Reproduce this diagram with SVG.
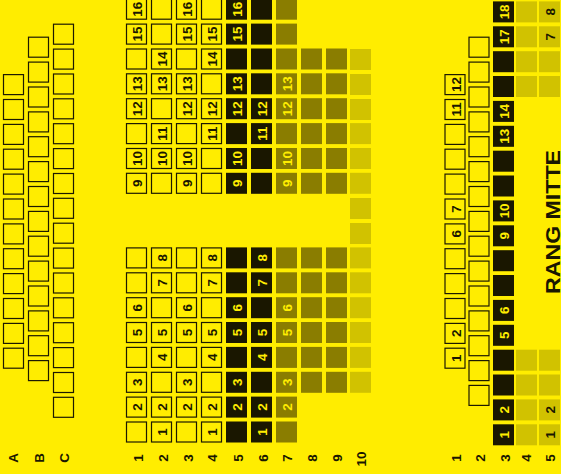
<svg xmlns="http://www.w3.org/2000/svg" width="561" height="474" viewBox="0 0 561 474">
<style>
.s rect{width:20px;height:20px;fill:none;stroke:#1d1a00;stroke-width:1.2}
.f rect{width:21px;height:21px}
.d rect{fill:#1a1700}
.b rect{fill:#8a7d00}
.l rect{fill:#d1c200}
text{font-family:"Liberation Sans",Arial,sans-serif;font-weight:700;font-size:13.4px;text-anchor:middle;fill:#1a1700}
.d text,.b text{fill:#ffed00}
#title{font-size:20.3px}
</style>
<rect width="561" height="474" fill="#ffed00"/>
<g id="left-A-C">
<g class="s" transform="translate(3.5 .5)"><rect y="74.1"/><rect y="99"/><rect y="123.9"/><rect y="148.7"/><rect y="173.6"/><rect y="198.5"/><rect y="223.4"/><rect y="248.2"/><rect y="273.1"/><rect y="298"/><rect y="322.9"/><rect y="347.7"/></g>
<g class="s" transform="translate(28.5 .5)"><rect y="36.7"/><rect y="61.6"/><rect y="86.5"/><rect y="111.4"/><rect y="136.2"/><rect y="161.1"/><rect y="186"/><rect y="210.9"/><rect y="235.7"/><rect y="260.6"/><rect y="285.5"/><rect y="310.4"/><rect y="335.2"/><rect y="360.1"/></g>
<g class="s" transform="translate(53.5 .5)"><rect y="23.7"/><rect y="48.6"/><rect y="73.5"/><rect y="98.3"/><rect y="123.2"/><rect y="148.1"/><rect y="173"/><rect y="197.8"/><rect y="222.7"/><rect y="247.6"/><rect y="272.5"/><rect y="297.3"/><rect y="322.2"/><rect y="347.1"/><rect y="372"/><rect y="396.8"/></g>
</g>
<g id="row-1" class="s" transform="translate(126.5 .5)"><rect y="-1.3"/><rect y="23.6"/><rect y="48.5"/><rect y="73.3"/><rect y="98.2"/><rect y="123.1"/><rect y="148"/><rect y="172.8"/><rect y="247.4"/><rect y="272.3"/><rect y="297.2"/><rect y="322"/><rect y="346.9"/><rect y="371.8"/><rect y="396.6"/><rect y="421.5"/>
<g><text transform="translate(15.5 8.7)rotate(-90)">16</text><text transform="translate(15.5 33.6)rotate(-90)">15</text><text transform="translate(15.5 83.3)rotate(-90)">13</text><text transform="translate(15.5 108.2)rotate(-90)">12</text><text transform="translate(15.5 158)rotate(-90)">10</text><text transform="translate(15.5 182.8)rotate(-90)">9</text><text transform="translate(15.5 307.2)rotate(-90)">6</text><text transform="translate(15.5 332)rotate(-90)">5</text><text transform="translate(15.5 381.8)rotate(-90)">3</text><text transform="translate(15.5 406.6)rotate(-90)">2</text></g></g>
<g id="row-2" class="s" transform="translate(151.5 .5)"><rect y="-1.3"/><rect y="23.6"/><rect y="48.5"/><rect y="73.3"/><rect y="98.2"/><rect y="123.1"/><rect y="148"/><rect y="172.8"/><rect y="247.4"/><rect y="272.3"/><rect y="297.2"/><rect y="322"/><rect y="346.9"/><rect y="371.8"/><rect y="396.6"/><rect y="421.5"/>
<g><text transform="translate(15.5 58.5)rotate(-90)">14</text><text transform="translate(15.5 83.3)rotate(-90)">13</text><text transform="translate(15.5 133.1)rotate(-90)">11</text><text transform="translate(15.5 158)rotate(-90)">10</text><text transform="translate(15.5 257.4)rotate(-90)">8</text><text transform="translate(15.5 282.3)rotate(-90)">7</text><text transform="translate(15.5 332)rotate(-90)">5</text><text transform="translate(15.5 356.9)rotate(-90)">4</text><text transform="translate(15.5 406.6)rotate(-90)">2</text><text transform="translate(15.5 431.5)rotate(-90)">1</text></g></g>
<g id="row-3" class="s" transform="translate(176.5 .5)"><rect y="-1.3"/><rect y="23.6"/><rect y="48.5"/><rect y="73.3"/><rect y="98.2"/><rect y="123.1"/><rect y="148"/><rect y="172.8"/><rect y="247.4"/><rect y="272.3"/><rect y="297.2"/><rect y="322"/><rect y="346.9"/><rect y="371.8"/><rect y="396.6"/><rect y="421.5"/>
<g><text transform="translate(15.5 8.7)rotate(-90)">16</text><text transform="translate(15.5 33.6)rotate(-90)">15</text><text transform="translate(15.5 83.3)rotate(-90)">13</text><text transform="translate(15.5 108.2)rotate(-90)">12</text><text transform="translate(15.5 158)rotate(-90)">10</text><text transform="translate(15.5 182.8)rotate(-90)">9</text><text transform="translate(15.5 307.2)rotate(-90)">6</text><text transform="translate(15.5 332)rotate(-90)">5</text><text transform="translate(15.5 381.8)rotate(-90)">3</text><text transform="translate(15.5 406.6)rotate(-90)">2</text></g></g>
<g id="row-4" class="s" transform="translate(201.5 .5)"><rect y="-1.3"/><rect y="23.6"/><rect y="48.5"/><rect y="73.3"/><rect y="98.2"/><rect y="123.1"/><rect y="148"/><rect y="172.8"/><rect y="247.4"/><rect y="272.3"/><rect y="297.2"/><rect y="322"/><rect y="346.9"/><rect y="371.8"/><rect y="396.6"/><rect y="421.5"/>
<g><text transform="translate(15.5 33.6)rotate(-90)">15</text><text transform="translate(15.5 58.5)rotate(-90)">14</text><text transform="translate(15.5 108.2)rotate(-90)">12</text><text transform="translate(15.5 133.1)rotate(-90)">11</text><text transform="translate(15.5 257.4)rotate(-90)">8</text><text transform="translate(15.5 282.3)rotate(-90)">7</text><text transform="translate(15.5 332)rotate(-90)">5</text><text transform="translate(15.5 356.9)rotate(-90)">4</text><text transform="translate(15.5 406.6)rotate(-90)">2</text><text transform="translate(15.5 431.5)rotate(-90)">1</text></g></g>
<g id="row-5" class="f d" transform="translate(226 0)"><rect y="-1.3"/><rect y="23.6"/><rect y="48.5"/><rect y="73.3"/><rect y="98.2"/><rect y="123.1"/><rect y="148"/><rect y="172.8"/><rect y="247.4"/><rect y="272.3"/><rect y="297.2"/><rect y="322"/><rect y="346.9"/><rect y="371.8"/><rect y="396.6"/><rect y="421.5"/>
<text transform="translate(16 9.2)rotate(-90)">16</text><text transform="translate(16 34.1)rotate(-90)">15</text><text transform="translate(16 83.8)rotate(-90)">13</text><text transform="translate(16 108.7)rotate(-90)">12</text><text transform="translate(16 158.5)rotate(-90)">10</text><text transform="translate(16 183.3)rotate(-90)">9</text><text transform="translate(16 307.7)rotate(-90)">6</text><text transform="translate(16 332.5)rotate(-90)">5</text><text transform="translate(16 382.3)rotate(-90)">3</text><text transform="translate(16 407.1)rotate(-90)">2</text></g>
<g id="row-6" class="f d" transform="translate(251 0)"><rect y="-1.3"/><rect y="23.6"/><rect y="48.5"/><rect y="73.3"/><rect y="98.2"/><rect y="123.1"/><rect y="148"/><rect y="172.8"/><rect y="247.4"/><rect y="272.3"/><rect y="297.2"/><rect y="322"/><rect y="346.9"/><rect y="371.8"/><rect y="396.6"/><rect y="421.5"/>
<text transform="translate(16 108.7)rotate(-90)">12</text><text transform="translate(16 133.6)rotate(-90)">11</text><text transform="translate(16 257.9)rotate(-90)">8</text><text transform="translate(16 282.8)rotate(-90)">7</text><text transform="translate(16 332.5)rotate(-90)">5</text><text transform="translate(16 357.4)rotate(-90)">4</text><text transform="translate(16 407.1)rotate(-90)">2</text><text transform="translate(16 432)rotate(-90)">1</text></g>
<g id="row-7" class="f b" transform="translate(276 0)"><rect y="-1.3"/><rect y="23.6"/><rect y="48.5"/><rect y="73.3"/><rect y="98.2"/><rect y="123.1"/><rect y="148"/><rect y="172.8"/><rect y="247.4"/><rect y="272.3"/><rect y="297.2"/><rect y="322"/><rect y="346.9"/><rect y="371.8"/><rect y="396.6"/><rect y="421.5"/>
<text transform="translate(16 83.8)rotate(-90)">13</text><text transform="translate(16 108.7)rotate(-90)">12</text><text transform="translate(16 158.5)rotate(-90)">10</text><text transform="translate(16 183.3)rotate(-90)">9</text><text transform="translate(16 307.7)rotate(-90)">6</text><text transform="translate(16 332.5)rotate(-90)">5</text><text transform="translate(16 382.3)rotate(-90)">3</text><text transform="translate(16 407.1)rotate(-90)">2</text></g>
<g id="row-8" class="f b" transform="translate(301 0)"><rect y="48.5"/><rect y="73.3"/><rect y="98.2"/><rect y="123.1"/><rect y="148"/><rect y="172.8"/><rect y="247.4"/><rect y="272.3"/><rect y="297.2"/><rect y="322"/><rect y="346.9"/><rect y="371.8"/></g>
<g id="row-9" class="f b" transform="translate(326 0)"><rect y="48.5"/><rect y="73.3"/><rect y="98.2"/><rect y="123.1"/><rect y="148"/><rect y="172.8"/><rect y="247.4"/><rect y="272.3"/><rect y="297.2"/><rect y="322"/><rect y="346.9"/><rect y="371.8"/></g>
<g id="row-10" class="f l" transform="translate(350 0)"><rect y="49"/><rect y="74"/><rect y="99"/><rect y="123.1"/><rect y="148"/><rect y="172.8"/><rect y="198"/><rect y="223"/><rect y="247.4"/><rect y="272.3"/><rect y="297.2"/><rect y="322"/><rect y="346.9"/><rect y="371.8"/></g>
<g id="right-1" class="s" transform="translate(445 .5)"><rect y="74.1"/><rect y="99"/><rect y="123.9"/><rect y="148.7"/><rect y="173.6"/><rect y="198.5"/><rect y="223.4"/><rect y="248.2"/><rect y="273.1"/><rect y="298"/><rect y="322.9"/><rect y="347.7"/>
<g><text transform="translate(15.5 84.1)rotate(-90)">12</text><text transform="translate(15.5 109)rotate(-90)">11</text><text transform="translate(15.5 208.5)rotate(-90)">7</text><text transform="translate(15.5 233.4)rotate(-90)">6</text><text transform="translate(15.5 332.9)rotate(-90)">2</text><text transform="translate(15.5 357.7)rotate(-90)">1</text></g></g>
<g id="right-2" class="s" transform="translate(469 .5)"><rect y="36.7"/><rect y="61.6"/><rect y="86.5"/><rect y="111.4"/><rect y="136.2"/><rect y="161.1"/><rect y="186"/><rect y="210.9"/><rect y="235.7"/><rect y="260.6"/><rect y="285.5"/><rect y="310.4"/><rect y="335.2"/><rect y="360.1"/><rect y="384.9"/></g>
<g id="right-3" class="f d" transform="translate(493 0)"><rect y="1.4"/><rect y="26.3"/><rect y="51.2"/><rect y="76"/><rect y="100.9"/><rect y="125.8"/><rect y="150.7"/><rect y="175.5"/><rect y="200.4"/><rect y="225.3"/><rect y="250.2"/><rect y="275"/><rect y="299.9"/><rect y="324.8"/><rect y="349.7"/><rect y="374.5"/><rect y="399.4"/><rect y="424.3"/>
<text transform="translate(16 11.9)rotate(-90)">18</text><text transform="translate(16 36.8)rotate(-90)">17</text><text transform="translate(16 111.4)rotate(-90)">14</text><text transform="translate(16 136.3)rotate(-90)">13</text><text transform="translate(16 210.9)rotate(-90)">10</text><text transform="translate(16 235.8)rotate(-90)">9</text><text transform="translate(16 310.4)rotate(-90)">6</text><text transform="translate(16 335.3)rotate(-90)">5</text><text transform="translate(16 409.9)rotate(-90)">2</text><text transform="translate(16 434.8)rotate(-90)">1</text></g>
<g id="right-4" class="f l" transform="translate(516 0)"><rect y="1.4"/><rect y="26.3"/><rect y="51.2"/><rect y="76"/><rect y="349.7"/><rect y="374.5"/><rect y="399.4"/><rect y="424.3"/></g>
<g id="right-5" class="f l" transform="translate(539 0)"><rect y="1.4"/><rect y="26.3"/><rect y="51.2"/><rect y="76"/><rect y="349.7"/><rect y="374.5"/><rect y="399.4"/><rect y="424.3"/>
<text transform="translate(16 11.9)rotate(-90)">8</text><text transform="translate(16 36.8)rotate(-90)">7</text><text transform="translate(16 409.9)rotate(-90)">2</text><text transform="translate(16 434.8)rotate(-90)">1</text></g>
<g id="row-labels">
<text transform="translate(17.5 458)rotate(-90)">A</text><text transform="translate(44 458)rotate(-90)">B</text><text transform="translate(69 458)rotate(-90)">C</text>
<text transform="translate(142.5 458)rotate(-90)">1</text><text transform="translate(167.5 458)rotate(-90)">2</text><text transform="translate(192.5 458)rotate(-90)">3</text><text transform="translate(217 458)rotate(-90)">4</text><text transform="translate(242.5 458)rotate(-90)">5</text><text transform="translate(267.5 458)rotate(-90)">6</text><text transform="translate(292 458)rotate(-90)">7</text><text transform="translate(317 458)rotate(-90)">8</text><text transform="translate(341.5 458)rotate(-90)">9</text><text transform="translate(366 459)rotate(-90)">10</text>
<text transform="translate(460.5 458)rotate(-90)">1</text><text transform="translate(485 458)rotate(-90)">2</text><text transform="translate(509.5 458)rotate(-90)">3</text><text transform="translate(531 458)rotate(-90)">4</text><text transform="translate(555 458)rotate(-90)">5</text>
</g>
<text id="title" transform="translate(560 222)rotate(-90)" textLength="144" lengthAdjust="spacingAndGlyphs">RANG MITTE</text>
</svg>
